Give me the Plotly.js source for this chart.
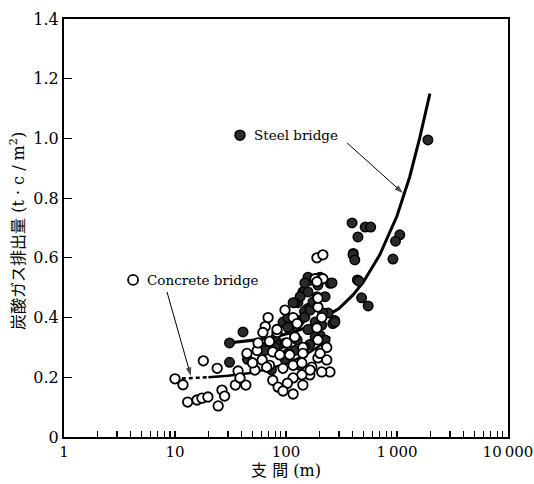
<!DOCTYPE html>
<html><head><meta charset="utf-8">
<script src="https://cdn.plot.ly/plotly-3.0.1.min.js"></script>
<style>body{margin:0;background:#fff}#c{width:534px;height:484px}</style>
</head><body><div id="c"></div>
<script>
// Concrete bridges (hollow markers): span (m), CO2 emission (t-c/m2)
var concreteX = [10,11.8,18,24,13,15.8,17.5,19.8,26.5,28,24.5,37,35,43.5,38.5,44.5,55,52.5,
  98,116,65,62,56,71,83,76,61,71,88,108,94,116,139,171,194,233,249,210,164,139,116,76,85,103,94,116,142,
  194,190,210,194,233,142,120,102,126,142,67,50,69,83,190,215,183,215,165,203,190,194];
var concreteY = [0.195,0.175,0.255,0.23,0.117,0.124,0.13,0.134,0.157,0.137,0.104,0.221,0.174,0.174,0.198,0.28,0.29,0.224,
  0.425,0.40,0.37,0.35,0.315,0.32,0.35,0.285,0.258,0.24,0.275,0.275,0.23,0.24,0.248,0.234,0.265,0.258,0.218,0.218,0.208,0.208,0.198,0.19,0.167,0.18,0.154,0.144,0.174,
  0.325,0.365,0.40,0.435,0.30,0.30,0.335,0.315,0.38,0.28,0.234,0.248,0.40,0.36,0.60,0.61,0.53,0.53,0.224,0.28,0.52,0.465];
// Steel bridges (filled markers)
var steelX = [31,41,31,45,404,440,250,142,190,128,157,275,102,1900,394,517,580,445,1060,970,402,417,920,455,480,550,
  164,147,134,120,225,175,158,203,116,94,264,240,133,158,108,80,65,88,120,164,203,98,74,134,183,147,126,104,
  104,128,148,165,175,158,148,194,260,215,210,276,120,98,80,65,183,148,104,225];
var steelY = [0.315,0.352,0.25,0.26,0.615,0.526,0.515,0.486,0.47,0.45,0.43,0.39,0.38,0.995,0.717,0.703,0.703,0.67,0.677,0.656,0.61,0.593,0.596,0.522,0.466,0.439,
  0.525,0.49,0.47,0.45,0.47,0.44,0.535,0.535,0.45,0.385,0.38,0.415,0.39,0.36,0.36,0.33,0.30,0.31,0.29,0.31,0.34,0.26,0.225,0.24,0.385,0.42,0.325,0.40,
  0.368,0.382,0.402,0.425,0.452,0.486,0.516,0.509,0.516,0.415,0.375,0.385,0.335,0.315,0.30,0.29,0.335,0.30,0.28,0.325];
// Trend curves
var steelCurveX = [30,50,70,100,150,200,300,400,500,700,1000,1300,1600,1980];
var steelCurveY = [0.315,0.325,0.33,0.345,0.365,0.39,0.43,0.475,0.52,0.61,0.74,0.87,1.0,1.15];
var concDashX = [11.5,20];
var concDashY = [0.196,0.20];
var concCurveX = [20,30,50,70,100,150,200,250];
var concCurveY = [0.20,0.205,0.215,0.23,0.245,0.275,0.305,0.335];
// Axis ticks
var xTickVals = [1,2,3,4,5,6,7,8,9,10,20,30,40,50,60,70,80,90,100,200,300,400,500,600,700,800,900,1000,2000,3000,4000,5000,6000,7000,8000,9000,10000];
var xTickText = xTickVals.map(function(v){return ({1:'1',10:'10',100:'100',1000:'1\u2009000',10000:'10\u2009000'})[v]||'';});
var yTickVals = [0,0.2,0.4,0.6,0.8,1.0,1.2,1.4];
var yTickText = ['0','0.2','0.4','0.6','0.8','1.0','1.2','1.4'];
var xTitle = '支 間 (m)';
var yTitle = '炭酸ガス排出量 (t · c / m<sup>2</sup>)';
// Labels (in-plot legend) and their pointer arrows (tail -> tip)
var labelNames = ['Steel bridge','Concrete bridge'];
var labelMarkX = [38.5,4.19];
var labelMarkY = [1.011,0.526];
var labelTextX = [49.4,5.37];
var arrowTailX = [355,8.47];
var arrowTailY = [0.985,0.486];
var arrowTipX = [1132,13.9];
var arrowTipY = [0.817,0.204];

var serif = 'DejaVu Serif, Noto Sans CJK JP, serif';
var traces = [
  {x:steelCurveX,y:steelCurveY,mode:'lines',line:{color:'#000',width:3},hoverinfo:'skip'},
  {x:concDashX,y:concDashY,mode:'lines',line:{color:'#000',width:2.5,dash:'4px,3px'},hoverinfo:'skip'},
  {x:concCurveX,y:concCurveY,mode:'lines',line:{color:'#000',width:2.5},hoverinfo:'skip'},
  {x:steelX,y:steelY,mode:'markers',marker:{symbol:'circle',size:9.5,color:'#2a2a2a',line:{color:'#000',width:1.5}}},
  {x:concreteX,y:concreteY,mode:'markers',marker:{symbol:'circle',size:9.5,color:'#fff',line:{color:'#000',width:1.8}}},
  {x:[labelMarkX[0]],y:[labelMarkY[0]],mode:'markers',marker:{symbol:'circle',size:10,color:'#2a2a2a',line:{color:'#000',width:1.5}}},
  {x:[labelMarkX[1]],y:[labelMarkY[1]],mode:'markers',marker:{symbol:'circle',size:10,color:'#fff',line:{color:'#000',width:1.8}}}
];
for (var k=0;k<2;k++){
  traces.push({x:[arrowTailX[k],arrowTipX[k]],y:[arrowTailY[k],arrowTipY[k]],mode:'lines+markers',
    line:{color:'#000',width:1},
    marker:{symbol:['circle','arrow'],size:[0,9],angleref:'previous',color:'#000',line:{width:0}}});
}
var ann = [];
for (var i=0;i<2;i++){
  ann.push({x:Math.log10(labelTextX[i]),y:labelMarkY[i],xref:'x',yref:'y',text:labelNames[i],showarrow:false,
    xanchor:'left',yanchor:'middle',font:{family:serif,size:13.5,color:'#000'}});
}
ann.push({xref:'paper',yref:'paper',x:-0.1036,y:0.493,text:yTitle,textangle:-90,showarrow:false,
  xanchor:'center',yanchor:'middle',font:{family:serif,size:16,color:'#000'}});
var layout = {
  width:534,height:484,showlegend:false,
  margin:{l:64,r:26,t:19,b:47},
  paper_bgcolor:'#fff',plot_bgcolor:'#fff',
  font:{family:serif,color:'#000',size:15},
  xaxis:{type:'log',range:[0,4.0004],tickmode:'array',tickvals:xTickVals,ticktext:xTickText,
    ticks:'inside',ticklen:6,tickwidth:1.2,tickcolor:'#000',showgrid:false,zeroline:false,
    showline:true,linecolor:'#000',linewidth:2,mirror:true,ticklabeloverflow:'allow',
    tickfont:{family:serif,size:15},
    title:{text:xTitle,font:{family:serif,size:16},standoff:5}},
  yaxis:{range:[0,1.4],tickmode:'array',tickvals:yTickVals,ticktext:yTickText,
    ticks:'inside',ticklen:8,tickwidth:1.2,tickcolor:'#000',showgrid:false,zeroline:false,
    showline:true,linecolor:'#000',linewidth:2,mirror:true,
    tickfont:{family:serif,size:16}},
  annotations:ann
};
Plotly.newPlot('c',traces,layout,{staticPlot:true,displayModeBar:false});
</script></body></html>
